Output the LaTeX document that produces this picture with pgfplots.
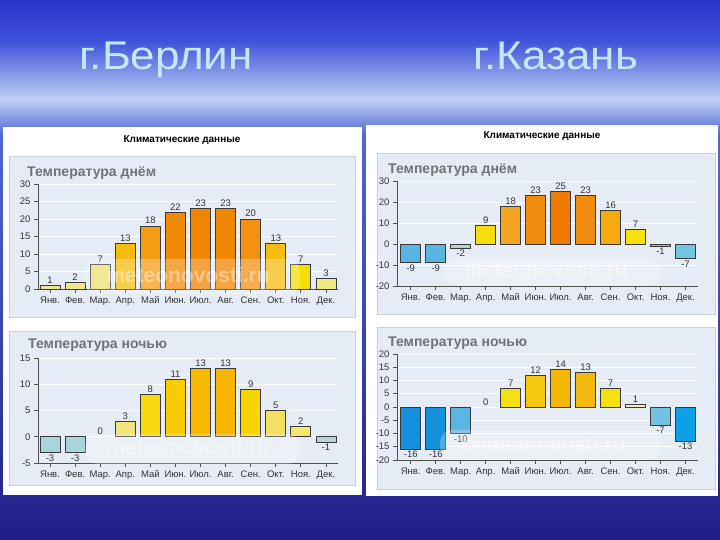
\documentclass[border=0pt]{standalone}
\usepackage{pgfplots}
\pgfplotsset{compat=1.18}
\usepackage{fontspec}
\setmainfont{Liberation Sans}
\definecolor{bgA}{HTML}{2832C8}
\definecolor{bgB}{HTML}{3C50DA}
\definecolor{bgC}{HTML}{C0D0F4}
\definecolor{bgD}{HTML}{5068D4}
\definecolor{bgE}{HTML}{221E88}
\definecolor{panelbg}{HTML}{E6ECF5}
\definecolor{panelbd}{HTML}{C8D0DA}
\definecolor{axgray}{HTML}{505050}
\definecolor{txtgray}{HTML}{333333}
\definecolor{ttlgray}{HTML}{707478}
\definecolor{barline}{HTML}{3A3A3A}
\definecolor{titlecol}{HTML}{C4E8F8}
\newcommand{\mybar}[3]{\xglobal\definecolor{c#3}{HTML}{#3}\addplot[ybar, bar width=20bp, bar shift=0pt, draw=barline, line width=0.8bp, fill=c#3] coordinates {(#1,#2)};}
\newcommand{\zerobar}[1]{\addplot[ybar, bar width=20bp, bar shift=0pt, draw=none, fill=none] coordinates {(#1,0)};}
\pgfplotsset{
  mystyle/.style={
    scale only axis, width=300bp, height=105bp,
    anchor=south west,
    axis x line*=bottom, axis y line*=left,
    axis line style={draw=axgray, line width=0.8bp, -},
    xmin=-0.48, xmax=11.48,
    xtick={0,...,11},
    xticklabels={Янв.,Фев.,Мар.,Апр.,Май,Июн.,Июл.,Авг.,Сен.,Окт.,Ноя.,Дек.},
    tick style={draw=axgray, line width=0.8bp},
    major tick length=4bp,
    tick align=outside,
    ticklabel style={font=\fontsize{9.5bp}{11bp}\selectfont, text=txtgray},
    /pgf/number format/assume math mode=true,
    ymajorgrids, grid style={white, line width=0.9bp},
    nodes near coords,
    every node near coord/.append style={font=\fontsize{9.5bp}{11bp}\selectfont, text=txtgray, inner sep=1.5bp},
    clip=false,
  }
}
\begin{document}
\begin{tikzpicture}[x=1bp,y=1bp]
\useasboundingbox (0,0) rectangle (720,540);
% background
\shade[top color=bgA, bottom color=bgB] (0,500) rectangle (720,540);
\shade[top color=bgB, bottom color=bgC] (0,440) rectangle (720,500.5);
\shade[top color=bgC, bottom color=bgD] (0,405) rectangle (720,440.5);
\shade[top color=bgD, bottom color=bgE] (0,0) rectangle (720,405.5);
% titles
\node[anchor=base, text=titlecol, font=\fontsize{40bp}{44bp}\selectfont] at (166,470) {\scalebox{1.1}[1]{г.Берлин}};
\node[anchor=base, text=titlecol, font=\fontsize{40bp}{44bp}\selectfont] at (556,470) {\scalebox{1.1}[1]{г.Казань}};
% white boxes
\fill[white] (3,45) rectangle (362,413);
\fill[white] (366,44) rectangle (718,415);
\node[font=\bfseries\fontsize{10bp}{12bp}\selectfont, text=black] at (182,400) {Климатические данные};
\node[font=\bfseries\fontsize{10bp}{12bp}\selectfont, text=black] at (542,404) {Климатические данные};
% panels
\filldraw[fill=panelbg, draw=panelbd, line width=1bp] (9,222) rectangle (355,383);
\filldraw[fill=panelbg, draw=panelbd, line width=1bp] (9,54) rectangle (355,208);
\filldraw[fill=panelbg, draw=panelbd, line width=1bp] (377,225) rectangle (715,386);
\filldraw[fill=panelbg, draw=panelbd, line width=1bp] (377,50) rectangle (715,212);
% panel titles
\node[anchor=base west, font=\bfseries\fontsize{14bp}{16bp}\selectfont, text=ttlgray, inner sep=0] at (27,363) {Температура днём};
\node[anchor=base west, font=\bfseries\fontsize{14bp}{16bp}\selectfont, text=ttlgray, inner sep=0] at (28,191) {Температура ночью};
\node[anchor=base west, font=\bfseries\fontsize{14bp}{16bp}\selectfont, text=ttlgray, inner sep=0] at (388,366) {Температура днём};
\node[anchor=base west, font=\bfseries\fontsize{14bp}{16bp}\selectfont, text=ttlgray, inner sep=0] at (388,193) {Температура ночью};

% Berlin day
\begin{axis}[mystyle, at={(38bp,251bp)}, ymin=0, ymax=30, ytick={0,5,...,30}]
\mybar{0}{1}{ECE89A}
\mybar{1}{2}{EEE88A}
\mybar{2}{7}{F0E070}
\mybar{3}{13}{F7BC10}
\mybar{4}{18}{F59D12}
\mybar{5}{22}{F28A08}
\mybar{6}{23}{F08500}
\mybar{7}{23}{F08500}
\mybar{8}{20}{F29210}
\mybar{9}{13}{F7BC10}
\mybar{10}{7}{F5DF00}
\mybar{11}{3}{F0E882}
\end{axis}

% Berlin night
\begin{axis}[mystyle, at={(38bp,77bp)}, ymin=-5, ymax=15, ytick={-5,0,...,15}]
\mybar{0}{-3}{A8D4DC}
\mybar{1}{-3}{A8D4DC}
\zerobar{2}
\mybar{3}{3}{F0E47A}
\mybar{4}{8}{F8D810}
\mybar{5}{11}{F8CC00}
\mybar{6}{13}{F7B800}
\mybar{7}{13}{F7B400}
\mybar{8}{9}{F8D400}
\mybar{9}{5}{F2E060}
\mybar{10}{2}{F0E670}
\mybar{11}{-1}{C0D0D8}
\end{axis}

% Kazan day
\begin{axis}[mystyle, at={(397bp,254bp)}, width=301bp, xmin=-0.55, xmax=11.5, ymin=-20, ymax=30, ytick={-20,-10,...,30}]
\mybar{0}{-9}{58B4E0}
\mybar{1}{-9}{58B4E0}
\mybar{2}{-2}{B8CFD8}
\mybar{3}{9}{F7DC10}
\mybar{4}{18}{F4A420}
\mybar{5}{23}{F28C10}
\mybar{6}{25}{EF7C00}
\mybar{7}{23}{F28C10}
\mybar{8}{16}{F5AA10}
\mybar{9}{7}{F7E010}
\mybar{10}{-1}{AAB4BC}
\mybar{11}{-7}{70C4E4}
\end{axis}

% Kazan night
\begin{axis}[mystyle, at={(397bp,80bp)}, width=301bp, height=106bp, xmin=-0.55, xmax=11.5, ymin=-20, ymax=20, ytick={-20,-15,...,20}]
\mybar{0}{-16}{1490DC}
\mybar{1}{-16}{1490DC}
\mybar{2}{-10}{5AB4E4}
\zerobar{3}
\mybar{4}{7}{F7E010}
\mybar{5}{12}{F7C810}
\mybar{6}{14}{F5B800}
\mybar{7}{13}{F5BA10}
\mybar{8}{7}{F7E010}
\mybar{9}{1}{F2EEB0}
\mybar{10}{-7}{72C2E2}
\mybar{11}{-13}{0EA0E4}
\end{axis}

% watermarks
\begin{scope}[fill opacity=0.25]
\fill[white, rounded corners=12bp] (85,246) rectangle (300,281);
\fill[white, rounded corners=12bp] (443,255) rectangle (662,282);
\fill[white, rounded corners=12bp] (85,76) rectangle (300,106);
\fill[white, rounded corners=12bp] (440,80) rectangle (660,110);
\end{scope}
\begin{scope}[text opacity=0.4]
\node[text=white, font=\bfseries\fontsize{21bp}{24bp}\selectfont] at (188,265) {meteonovosti.ru};
\node[text=white, font=\bfseries\fontsize{21bp}{24bp}\selectfont] at (546,270) {meteonovosti.ru};
\node[text=white, font=\bfseries\fontsize{21bp}{24bp}\selectfont] at (188,93) {meteonovosti.ru};
\node[text=white, font=\bfseries\fontsize{21bp}{24bp}\selectfont] at (544,96) {meteonovosti.ru};
\end{scope}
\end{tikzpicture}
\end{document}
